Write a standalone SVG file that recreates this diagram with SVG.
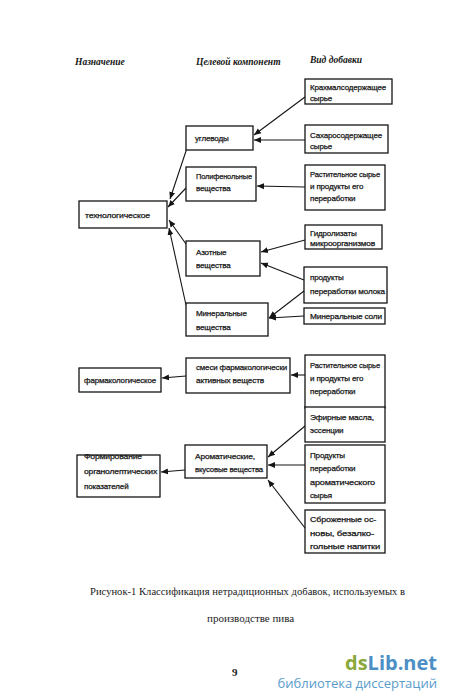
<svg xmlns="http://www.w3.org/2000/svg" width="450" height="698" viewBox="0 0 450 698">
<style>
.b{fill:#fff;stroke:#151515;stroke-width:1.3}
.t{font-family:"Liberation Sans","DejaVu Sans",sans-serif;font-size:8px;fill:#151515;letter-spacing:-0.15px;stroke:#151515;stroke-width:0.25px}
.h{font-family:"Liberation Serif","DejaVu Serif",serif;font-size:9.5px;font-style:italic;font-weight:bold;fill:#151515}
.c{fill:none;stroke:#151515;stroke-width:1.1}
.cap{font-family:"Liberation Serif","DejaVu Serif",serif;font-size:11px;fill:#222}
</style>
<defs>
<marker id="ah" markerUnits="userSpaceOnUse" markerWidth="8" markerHeight="8" refX="7" refY="4" orient="auto">
<path d="M0,1 L7,4 L0,7 z" fill="#151515"/>
</marker>
</defs>
<rect width="450" height="698" fill="#fff"/>
<g id="headers">
<text class="h" x="75" y="65">Назначение</text>
<text class="h" x="196" y="65">Целевой компонент</text>
<text class="h" x="310" y="63">Вид добавки</text>
</g>
<g id="connectors">
<line class="c" x1="305" y1="97" x2="254" y2="135" marker-end="url(#ah)"/>
<line class="c" x1="305" y1="140" x2="254" y2="140" marker-end="url(#ah)"/>
<line class="c" x1="187" y1="148" x2="170" y2="199" marker-end="url(#ah)"/>
<line class="c" x1="186" y1="188" x2="168" y2="207" marker-end="url(#ah)"/>
<line class="c" x1="186" y1="244" x2="169" y2="220" marker-end="url(#ah)"/>
<line class="c" x1="186" y1="305" x2="169" y2="228" marker-end="url(#ah)"/>
<line class="c" x1="305" y1="187" x2="257" y2="186" marker-end="url(#ah)"/>
<line class="c" x1="305" y1="240" x2="261" y2="252" marker-end="url(#ah)"/>
<line class="c" x1="304" y1="280" x2="261" y2="263" marker-end="url(#ah)"/>
<line class="c" x1="304" y1="291" x2="269" y2="318" marker-end="url(#ah)"/>
<line class="c" x1="304" y1="316" x2="269" y2="318" marker-end="url(#ah)"/>
<line class="c" x1="305" y1="375" x2="291" y2="375" marker-end="url(#ah)"/>
<line class="c" x1="186" y1="376" x2="162" y2="378" marker-end="url(#ah)"/>
<line class="c" x1="305" y1="426" x2="268" y2="457" marker-end="url(#ah)"/>
<line class="c" x1="305" y1="465" x2="268" y2="465" marker-end="url(#ah)"/>
<line class="c" x1="305" y1="528" x2="268" y2="480" marker-end="url(#ah)"/>
<line class="c" x1="185" y1="470" x2="161" y2="472" marker-end="url(#ah)"/>
</g>
<g id="krah"><rect class="b" x="305" y="79" width="87" height="25"/><text class="t" x="310" y="90" textLength="76" lengthAdjust="spacingAndGlyphs">Крахмалсодержащее</text><text class="t" x="310" y="101">сырье</text></g>
<g id="ugl"><rect class="b" x="186" y="126" width="67" height="24"/><text class="t" x="195" y="141">углеводы</text></g>
<g id="sakh"><rect class="b" x="305" y="125" width="83" height="28"/><text class="t" x="310" y="138" textLength="72" lengthAdjust="spacingAndGlyphs">Сахаросодержащее</text><text class="t" x="310" y="149">сырье</text></g>
<g id="poly"><rect class="b" x="186" y="167" width="70" height="34"/><text class="t" x="196" y="179" textLength="56" lengthAdjust="spacingAndGlyphs">Полифенольные</text><text class="t" x="196" y="191">вещества</text></g>
<g id="rast1"><rect class="b" x="305" y="165" width="80" height="45"/><text class="t" x="310" y="177" textLength="70" lengthAdjust="spacingAndGlyphs">Растительное сырье</text><text class="t" x="310" y="189">и продукты его</text><text class="t" x="310" y="201">переработки</text></g>
<g id="tech"><rect class="b" x="79" y="201" width="88" height="27"/><text class="t" x="85" y="218" textLength="65" lengthAdjust="spacingAndGlyphs">технологическое</text></g>
<g id="hydro"><rect class="b" x="305" y="225" width="77" height="24"/><text class="t" x="310" y="236">Гидролизаты</text><text class="t" x="310" y="246" textLength="65" lengthAdjust="spacingAndGlyphs">микроорганизмов</text></g>
<g id="azot"><rect class="b" x="186" y="241" width="74" height="35"/><text class="t" x="196" y="255">Азотные</text><text class="t" x="196" y="268">вещества</text></g>
<g id="moloko"><rect class="b" x="304" y="267" width="83" height="36"/><text class="t" x="310" y="280">продукты</text><text class="t" x="310" y="294" textLength="75" lengthAdjust="spacingAndGlyphs">переработки молока</text></g>
<g id="miner"><rect class="b" x="186" y="303" width="82" height="33"/><text class="t" x="196" y="316">Минеральные</text><text class="t" x="196" y="330">вещества</text></g>
<g id="soli"><rect class="b" x="304" y="308" width="81" height="16"/><text class="t" x="310" y="319" textLength="72" lengthAdjust="spacingAndGlyphs">Минеральные соли</text></g>
<g id="farm"><rect class="b" x="79" y="368" width="82" height="24"/><text class="t" x="84" y="383" textLength="72" lengthAdjust="spacingAndGlyphs">фармакологическое</text></g>
<g id="smesi"><rect class="b" x="186" y="358" width="104" height="35"/><text class="t" x="196" y="370" textLength="91" lengthAdjust="spacingAndGlyphs">смеси фармакологически</text><text class="t" x="196" y="383" textLength="68" lengthAdjust="spacingAndGlyphs">активных веществ</text></g>
<g id="rast2"><rect class="b" x="305" y="355" width="80" height="53"/><text class="t" x="310" y="368" textLength="70" lengthAdjust="spacingAndGlyphs">Растительное сырье</text><text class="t" x="310" y="381">и продукты его</text><text class="t" x="310" y="394">переработки</text></g>
<g id="efir"><rect class="b" x="305" y="407" width="80" height="35"/><text class="t" x="310" y="420" textLength="64" lengthAdjust="spacingAndGlyphs">Эфирные масла,</text><text class="t" x="310" y="433">эссенции</text></g>
<g id="prod"><rect class="b" x="305" y="445" width="80" height="58"/><text class="t" x="310" y="458">Продукты</text><text class="t" x="310" y="471">переработки</text><text class="t" x="310" y="485" textLength="65" lengthAdjust="spacingAndGlyphs">ароматического</text><text class="t" x="310" y="498">сырья</text></g>
<g id="sbr"><rect class="b" x="305" y="510" width="80" height="43"/><text class="t" x="310" y="522" textLength="66" lengthAdjust="spacingAndGlyphs">Сброженные ос-</text><text class="t" x="310" y="536" textLength="64" lengthAdjust="spacingAndGlyphs">новы, безалко-</text><text class="t" x="310" y="549" textLength="70" lengthAdjust="spacingAndGlyphs">гольные напитки</text></g>
<g id="arom"><rect class="b" x="185" y="445" width="82" height="33"/><text class="t" x="195" y="459" textLength="60" lengthAdjust="spacingAndGlyphs">Ароматические,</text><text class="t" x="195" y="472" textLength="68" lengthAdjust="spacingAndGlyphs">вкусовые вещества</text></g>
<g id="form"><rect class="b" x="77" y="455" width="83" height="42"/><text class="t" x="84" y="459" textLength="58" lengthAdjust="spacingAndGlyphs">Формирование</text><text class="t" x="84" y="474" textLength="73" lengthAdjust="spacingAndGlyphs">органолептических</text><text class="t" x="84" y="489">показателей</text></g>
<g id="caption">
<text class="cap" x="90" y="595" textLength="315" lengthAdjust="spacingAndGlyphs">Рисунок-1  Классификация нетрадиционных добавок, используемых в</text>
<text class="cap" x="207" y="622">производстве пива</text>
<text class="cap" x="232" y="676" font-weight="bold" font-size="10px">9</text>
</g>
<g id="watermark">
<text x="437" y="670" text-anchor="end" font-family="'Open Sans','DejaVu Sans',sans-serif" font-size="20px" font-weight="bold"><tspan fill="#8aa93c">ds</tspan><tspan fill="#4b8fc4">Lib.net</tspan></text>
<text x="437" y="688" text-anchor="end" font-family="'Open Sans','DejaVu Sans',sans-serif" font-size="13px" fill="#5a9ccc">библиотека диссертаций</text>
</g>
</svg>
